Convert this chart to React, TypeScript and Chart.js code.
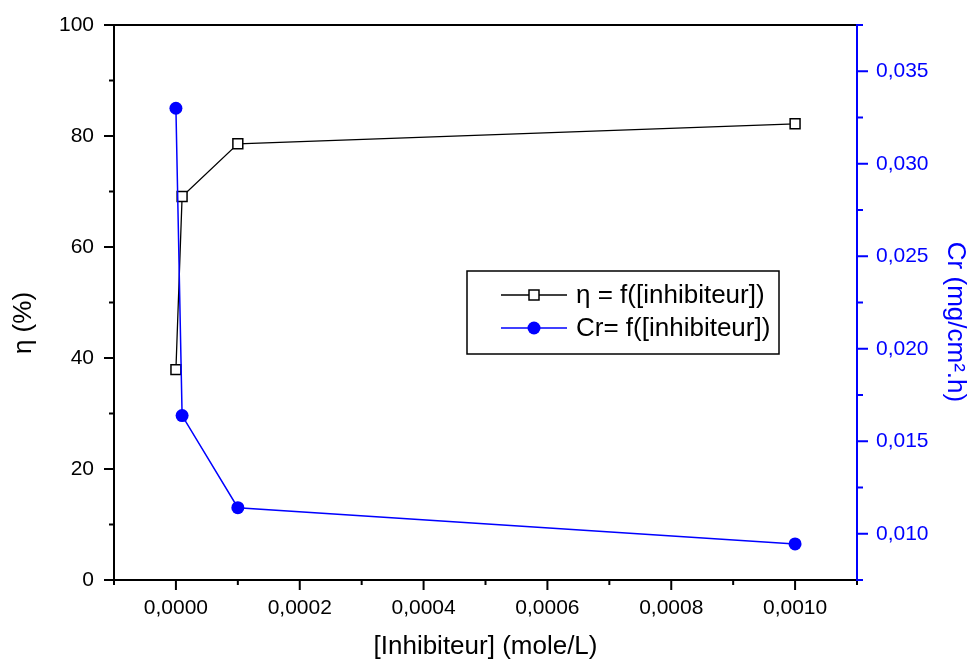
import React, { useEffect, useRef } from 'react';
import { Chart, registerables } from 'chart.js';

Chart.register(...registerables);

// ---- data ----
const concentrations = [0, 0.00001, 0.0001, 0.001];
const efficiency = [37.9, 69.1, 78.6, 82.2];
const corrosionRate = [0.033, 0.01639, 0.01141, 0.00945];

// ---- axes ----
const X_MIN = -0.0001;
const X_MAX = 0.0011;
const X_MAJOR = [0, 0.0002, 0.0004, 0.0006, 0.0008, 0.001];
const X_MINOR = [-0.0001, 0.0001, 0.0003, 0.0005, 0.0007, 0.0009, 0.0011];
const Y_MIN = 0;
const Y_MAX = 100;
const Y_MAJOR = [0, 20, 40, 60, 80, 100];
const Y_MINOR = [10, 30, 50, 70, 90];
const Y2_MIN = 0.0075;
const Y2_MAX = 0.0375;
const Y2_MAJOR = [0.01, 0.015, 0.02, 0.025, 0.03, 0.035];
const Y2_MINOR = [0.0075, 0.0125, 0.0175, 0.0225, 0.0275, 0.0325, 0.0375];

const LEGEND_LABELS = ['η = f([inhibiteur])', 'Cr= f([inhibiteur])'];
const X_TITLE = '[Inhibiteur] (mole/L)';
const Y_TITLE = 'η (%)';
const Y2_TITLE = 'Cr (mg/cm².h)';

const FONT = "'Liberation Sans', Arial, Helvetica, sans-serif";
const BLUE = '#0000FF';

const axesPlugin = {
  id: 'originAxes',
  afterDraw(chart: any) {
    const ctx = chart.ctx as CanvasRenderingContext2D;
    const { left, right, top, bottom } = chart.chartArea;
    const xs = chart.scales.x;
    const ys = chart.scales.y;
    const y2s = chart.scales.y2;
    const seg = (a: number, b: number, c: number, d: number) => {
      ctx.moveTo(a, b);
      ctx.lineTo(c, d);
    };
    ctx.save();
    ctx.lineCap = 'butt';
    ctx.lineWidth = 2;
    ctx.strokeStyle = '#000';
    ctx.beginPath();
    seg(left, top, right, top);
    seg(left, top - 1, left, bottom + 1);
    seg(left, bottom, right, bottom);
    X_MAJOR.forEach((v) => {
      const p = xs.getPixelForValue(v);
      seg(p, bottom, p, bottom + 10);
    });
    X_MINOR.forEach((v) => {
      const p = xs.getPixelForValue(v);
      seg(p, bottom, p, bottom + 5);
    });
    Y_MAJOR.forEach((v) => {
      const p = ys.getPixelForValue(v);
      seg(left - 10, p, left, p);
    });
    Y_MINOR.forEach((v) => {
      const p = ys.getPixelForValue(v);
      seg(left - 5, p, left, p);
    });
    ctx.stroke();

    ctx.strokeStyle = BLUE;
    ctx.beginPath();
    seg(right, top - 1, right, bottom + 1);
    Y2_MAJOR.forEach((v) => {
      const p = y2s.getPixelForValue(v);
      seg(right, p, right + 11, p);
    });
    Y2_MINOR.forEach((v) => {
      const p = y2s.getPixelForValue(v);
      seg(right, p, right + 6, p);
    });
    ctx.stroke();

    // axis titles (vertical)
    ctx.font = `26px ${FONT}`;
    ctx.textAlign = 'center';
    ctx.textBaseline = 'middle';
    ctx.save();
    ctx.translate(24, 323);
    ctx.rotate(-Math.PI / 2);
    ctx.fillStyle = '#000';
    ctx.fillText(Y_TITLE, 0, 0);
    ctx.restore();
    ctx.save();
    ctx.translate(955, 322);
    ctx.rotate(Math.PI / 2);
    ctx.fillStyle = BLUE;
    ctx.fillText(Y2_TITLE, 0, 0);
    ctx.restore();

    // legend
    const bx = 467, by = 271, bw = 312, bh = 83;
    ctx.lineWidth = 1.5;
    ctx.strokeStyle = '#000';
    ctx.strokeRect(bx, by, bw, bh);
    const rows = [295, 328];
    ctx.lineWidth = 1.3;
    ctx.strokeStyle = '#000';
    ctx.beginPath();
    seg(501, rows[0], 567, rows[0]);
    ctx.stroke();
    ctx.fillStyle = '#fff';
    ctx.fillRect(529, rows[0] - 5, 10, 10);
    ctx.lineWidth = 1.5;
    ctx.strokeRect(529, rows[0] - 5, 10, 10);
    ctx.lineWidth = 1.5;
    ctx.strokeStyle = BLUE;
    ctx.beginPath();
    seg(501, rows[1], 567, rows[1]);
    ctx.stroke();
    ctx.fillStyle = BLUE;
    ctx.beginPath();
    ctx.arc(534, rows[1], 6.5, 0, Math.PI * 2);
    ctx.fill();

    ctx.fillStyle = '#000';
    ctx.font = `26px ${FONT}`;
    ctx.textAlign = 'left';
    ctx.textBaseline = 'middle';
    ctx.fillText(LEGEND_LABELS[0], 576, rows[0] + 1);
    ctx.fillText(LEGEND_LABELS[1], 576, rows[1] + 1);
    ctx.restore();
  },
};

const zeroPad = (s: any) => {
  s.paddingTop = 0;
  s.paddingBottom = 0;
  s.paddingLeft = 0;
  s.paddingRight = 0;
};

export default function App() {
  const canvasRef = useRef<HTMLCanvasElement | null>(null);

  useEffect(() => {
    document.body.style.margin = '0';
    const canvas = canvasRef.current;
    if (!canvas) return;
    const chart = new Chart(canvas, {
      type: 'scatter',
      data: {
        datasets: [
          {
            label: 'Cr',
            data: concentrations.map((x, i) => ({ x, y: corrosionRate[i] })),
            yAxisID: 'y2',
            showLine: true,
            borderColor: BLUE,
            backgroundColor: BLUE,
            borderWidth: 1.5,
            pointStyle: 'circle',
            pointRadius: 6.5,
            pointBorderWidth: 0,
            pointBackgroundColor: BLUE,
            order: 0,
          },
          {
            label: 'η',
            data: concentrations.map((x, i) => ({ x, y: efficiency[i] })),
            yAxisID: 'y',
            showLine: true,
            borderColor: '#000',
            backgroundColor: '#fff',
            borderWidth: 1.3,
            pointStyle: 'rect',
            pointRadius: 7,
            pointBorderWidth: 1.5,
            pointBorderColor: '#000',
            pointBackgroundColor: '#fff',
            order: 1,
          },
        ],
      },
      options: {
        responsive: false,
        animation: false,
        devicePixelRatio: 1,
        layout: { padding: { top: 25, left: 0, right: 0, bottom: 0 } },
        plugins: {
          legend: { display: false },
          tooltip: { enabled: false },
        },
        scales: {
          x: {
            type: 'linear',
            position: 'bottom',
            min: X_MIN,
            max: X_MAX,
            grid: { display: false, drawTicks: false },
            border: { display: false },
            afterBuildTicks: (s: any) => {
              s.ticks = X_MAJOR.map((v) => ({ value: v }));
            },
            afterFit: (s: any) => {
              s.height = 82;
              zeroPad(s);
            },
            ticks: {
              padding: 16,
              color: '#000',
              maxRotation: 0,
              autoSkip: false,
              font: { family: FONT, size: 21 },
              callback: (v: any) => Number(v).toFixed(4).replace('.', ','),
            },
            title: {
              display: true,
              text: X_TITLE,
              color: '#000',
              font: { family: FONT, size: 26 },
              padding: { top: 0, bottom: 0 },
            },
          },
          y: {
            type: 'linear',
            position: 'left',
            min: Y_MIN,
            max: Y_MAX,
            grid: { display: false, drawTicks: false },
            border: { display: false },
            afterBuildTicks: (s: any) => {
              s.ticks = Y_MAJOR.map((v) => ({ value: v }));
            },
            afterFit: (s: any) => {
              s.width = 114;
              zeroPad(s);
            },
            ticks: {
              padding: 20,
              color: '#000',
              autoSkip: false,
              font: { family: FONT, size: 21 },
              callback: (v: any) => String(Math.round(Number(v))),
            },
            title: { display: false },
          },
          y2: {
            type: 'linear',
            position: 'right',
            min: Y2_MIN,
            max: Y2_MAX,
            grid: { display: false, drawTicks: false },
            border: { display: false },
            afterBuildTicks: (s: any) => {
              s.ticks = Y2_MAJOR.map((v) => ({ value: v }));
            },
            afterFit: (s: any) => {
              s.width = 115;
              zeroPad(s);
            },
            ticks: {
              padding: 19,
              color: BLUE,
              autoSkip: false,
              font: { family: FONT, size: 21 },
              callback: (v: any) => Number(v).toFixed(3).replace('.', ','),
            },
            title: { display: false },
          },
        },
      },
      plugins: [axesPlugin],
    } as any);
    return () => {
      chart.destroy();
    };
  }, []);

  return (
    <div style={{ width: 972, height: 662 }}>
      <canvas ref={canvasRef} width={972} height={662} style={{ display: 'block' }} />
    </div>
  );
}
